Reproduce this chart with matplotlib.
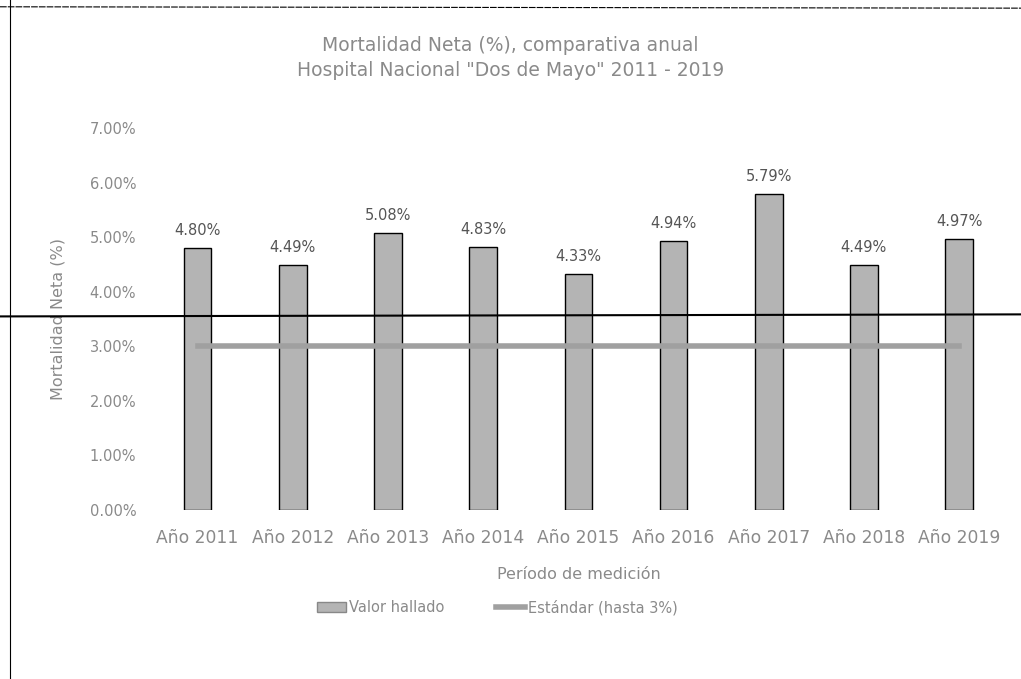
import numpy as np
import matplotlib.pyplot as plt
from matplotlib.lines import Line2D

# Datos
anios = ["Año 2011", "Año 2012", "Año 2013", "Año 2014", "Año 2015",
         "Año 2016", "Año 2017", "Año 2018", "Año 2019"]
valor_hallado = [0.0480, 0.0449, 0.0508, 0.0483, 0.0433, 0.0494, 0.0579, 0.0449, 0.0497]
estandar = [0.03, 0.03, 0.03, 0.03, 0.03, 0.03, 0.03, 0.03, 0.03]

gris_texto = '#8a8a8a'

fig = plt.figure(figsize=(10.21, 6.79), dpi=100)
ax = fig.add_axes([0.147, 0.249, 0.839, 0.562])

x = np.arange(len(anios))
bars = ax.bar(x, valor_hallado, width=0.29, color='#b4b4b4', edgecolor='black',
              linewidth=1.0, label='Valor hallado', zorder=2)
ax.plot(x, estandar, color='#a0a0a0', linewidth=4, label='Estándar (hasta 3%)', zorder=3)

for b, v in zip(bars, valor_hallado):
    ax.text(b.get_x() + b.get_width() / 2, v + 0.0018, f"{v*100:.2f}%",
            ha='center', va='bottom', fontsize=10.5, color='#555555')

ax.set_ylim(0, 0.07)
ax.set_xlim(-0.5, len(anios) - 0.5)
ax.set_yticks(np.arange(0, 0.071, 0.01))
ax.set_yticklabels([f"{t*100:.2f}%" for t in np.arange(0, 0.071, 0.01)])
ax.set_xticks(x)
ax.set_xticklabels(anios)
ax.tick_params(axis='both', length=0, colors=gris_texto)
ax.tick_params(axis='y', pad=10, labelsize=10.5)
ax.tick_params(axis='x', pad=14, labelsize=12.3)
for s in ax.spines.values():
    s.set_visible(False)

ax.set_xlabel('Período de medición', color=gris_texto, fontsize=11.5, labelpad=14)
ax.set_ylabel('Mortalidad Neta (%)', color=gris_texto, fontsize=11.5, labelpad=17)

fig.text(0.5, 0.915, 'Mortalidad Neta (%), comparativa anual\nHospital Nacional "Dos de Mayo" 2011 - 2019',
         ha='center', va='center', fontsize=13.5, color=gris_texto, linespacing=1.4)

handles = [plt.Rectangle((0, 0), 1, 1, facecolor='#b4b4b4', edgecolor='#888888'),
           Line2D([0], [0], color='#a0a0a0', linewidth=4)]
fig.legend(handles, ['Valor hallado', 'Estándar (hasta 3%)'], loc='center',
           bbox_to_anchor=(0.487, 0.105), ncol=2, frameon=False, fontsize=10.5,
           labelcolor=gris_texto, handlelength=2.0, columnspacing=3.5, handletextpad=0.2)

# marcas del escaneo: borde de página y línea horizontal
fig.add_artist(Line2D([0, 1], [0.534, 0.537], color='black', linewidth=1.5))
fig.add_artist(Line2D([0.01, 0.01], [0, 1], color='black', linewidth=0.8))
fig.add_artist(Line2D([0, 1], [0.99, 0.988], color='black', linewidth=0.8, linestyle=(0, (6, 1))))

fig.savefig('out.png', dpi=100)
